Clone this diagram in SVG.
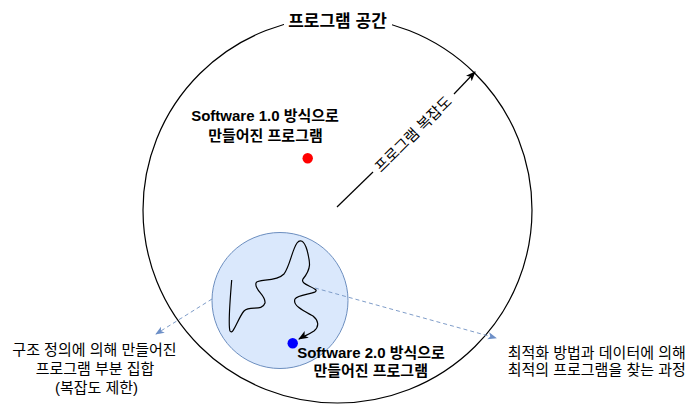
<svg xmlns="http://www.w3.org/2000/svg" width="698" height="409" viewBox="0 0 698 409">
<style>
.k{font-family:"Liberation Sans","Noto Sans CJK KR",sans-serif;fill:#000}
.b{font-weight:bold;font-size:15px}
.r{font-size:15px}
.t{font-weight:bold;font-size:17px}
</style>
<defs>
<marker id="ab" viewBox="0 0 10 10" refX="9" refY="5" markerWidth="10" markerHeight="10" markerUnits="userSpaceOnUse" orient="auto">
<path d="M0,1 L10,5 L0,9 L2.5,5 Z" fill="#000"/>
</marker>
<marker id="abl" viewBox="0 0 10 10" refX="9" refY="5" markerWidth="9" markerHeight="9" markerUnits="userSpaceOnUse" orient="auto">
<path d="M0,1 L10,5 L0,9 L2.5,5 Z" fill="#6d8fc7"/>
</marker>
</defs>
<g id="space">
<ellipse cx="337.5" cy="210" rx="194.5" ry="193" fill="none" stroke="#000" stroke-width="1.2"/>
<rect x="284" y="9" width="108" height="22" fill="#fff"/>
<text class="k t" x="337.5" y="27" text-anchor="middle">프로그램 공간</text>
</g>
<g id="subset">
<circle cx="280" cy="300.5" r="68" fill="#dae8fc" stroke="#6c8ebf" stroke-width="1"/>
</g>
<g id="connectors">
<line x1="337" y1="207" x2="373" y2="172" stroke="#000" stroke-width="1.2"/>
<line x1="454" y1="94" x2="475" y2="72" stroke="#000" stroke-width="1.2" marker-end="url(#ab)"/>
<path d="M231.7,280 C230,300 228,325 230,331 C233,336 238,318 244,311 C250,305 262,312 265,303 C266,295 254,290 256,283 C258,278 275,283 284,274 C290,266 292,250 297,243 C300,239 304,240 307,250 C310,262 312,268 303,279 C300,284 312,286 316,290 C318,294 298,294 295,299 C292,306 306,312 313,316 C318,320 320,326 314,331 C308,335 304,336 299,339" fill="none" stroke="#000" stroke-width="1.2" marker-end="url(#ab)"/>
<line x1="212" y1="299" x2="156" y2="334" stroke="#7f9dc9" stroke-width="1" stroke-dasharray="4 3" marker-end="url(#abl)"/>
<line x1="315" y1="288" x2="496" y2="338" stroke="#7f9dc9" stroke-width="1" stroke-dasharray="4 3" marker-end="url(#abl)"/>
</g>
<g id="complexity">
<text class="k r" x="413" y="134" text-anchor="middle" dominant-baseline="central" transform="rotate(-44.5 413 134)">프로그램 복잡도</text>
</g>
<g id="sw1">
<circle cx="307.7" cy="158.3" r="5.2" fill="#f00"/>
<text class="k b" x="265" y="121" text-anchor="middle">Software 1.0 방식으로</text>
<text class="k b" x="265.5" y="141" text-anchor="middle">만들어진 프로그램</text>
</g>
<g id="sw2">
<circle cx="292.7" cy="343.3" r="5.2" fill="#00f"/>
<text class="k b" x="371" y="358" text-anchor="middle">Software 2.0 방식으로</text>
<text class="k b" x="370.7" y="376" text-anchor="middle">만들어진 프로그램</text>
</g>
<g id="label-left">
<text class="k r" x="94.5" y="355" text-anchor="middle">구조 정의에 의해 만들어진</text>
<text class="k r" x="95" y="374" text-anchor="middle">프로그램 부분 집합</text>
<text class="k r" x="96.5" y="393" text-anchor="middle">(복잡도 제한)</text>
</g>
<g id="label-right">
<text class="k r" x="596.7" y="358" text-anchor="middle">최적화 방법과 데이터에 의해</text>
<text class="k r" x="596.7" y="375" text-anchor="middle">최적의 프로그램을 찾는 과정</text>
</g>
</svg>
